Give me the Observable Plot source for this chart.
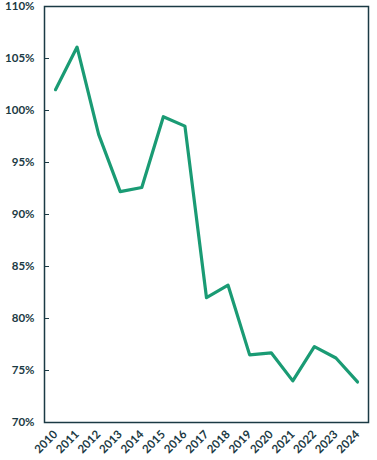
<!DOCTYPE html>
<html><head><meta charset="utf-8">
<script src="https://cdn.jsdelivr.net/npm/d3@7"></script>
<script src="https://cdn.jsdelivr.net/npm/@observablehq/plot@0.6"></script>
<style>body{margin:0;background:#fff}</style>
</head><body><div id="chart"></div>
<script>
const years = [2010,2011,2012,2013,2014,2015,2016,2017,2018,2019,2020,2021,2022,2023,2024];
const values = [102.0,106.1,97.7,92.2,92.6,99.4,98.5,82.0,83.2,76.5,76.7,74.0,77.3,76.2,73.9];
const yTicks = [70,75,80,85,90,95,100,105,110];
const data = years.map((y,i)=>({year:y, value:values[i]}));
const ink = "#1b3a44";
const chart = Plot.plot({
  width: 377, height: 460,
  marginLeft: 44, marginTop: 6, marginRight: 9, marginBottom: 38,
  style: {fontFamily: "Lato, sans-serif", fontSize: "11.5px", fontWeight: "bold", color: ink, background: "#fff", overflow: "visible"},
  x: {domain: [2010, 2024], inset: 11},
  y: {domain: [70, 110]},
  marks: [
    Plot.frame({stroke: ink, strokeWidth: 1.5}),
    Plot.axisY({ticks: yTicks, tickSize: 0, tickPadding: 10, tickFormat: d => d + "%", label: null}),
    Plot.axisY({ticks: yTicks.slice(1,-1), tickSize: 5, dx: 5, tickFormat: () => "", label: null, stroke: ink}),
    Plot.axisX({ticks: years, tickSize: 0, tickFormat: d => String(d), tickRotate: -45, tickPadding: 10, label: null}),
    Plot.line(data, {x: "year", y: "value", stroke: "#1a9b74", strokeWidth: 3.2})
  ]
});
document.getElementById("chart").append(chart);
</script></body></html>
